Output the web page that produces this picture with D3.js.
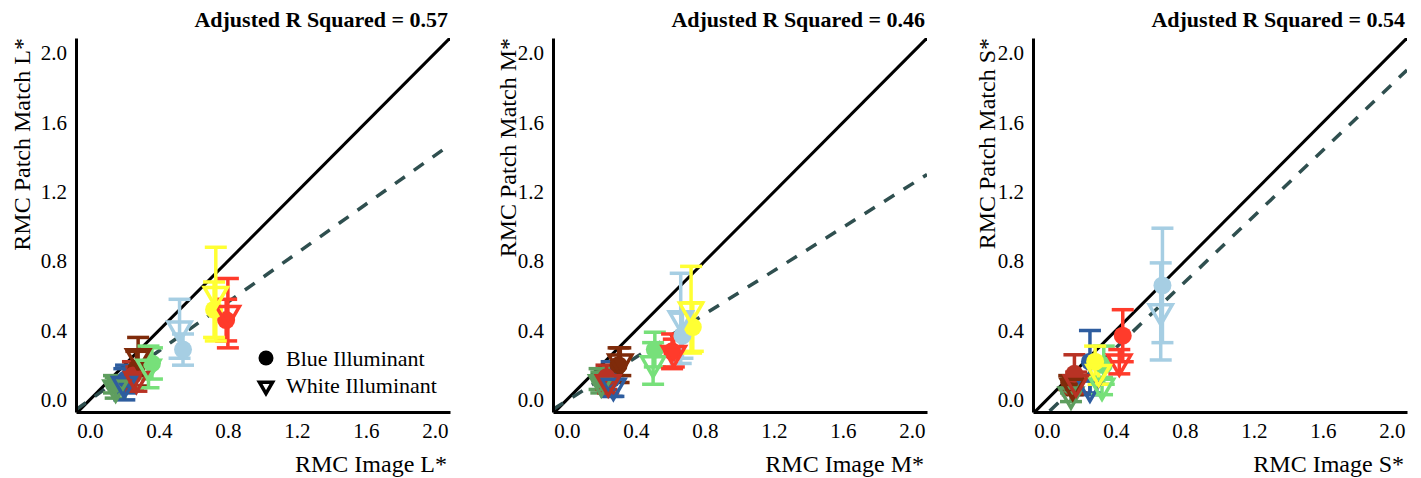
<!DOCTYPE html>
<html>
<head>
<meta charset="utf-8">
<script src="https://cdn.jsdelivr.net/npm/d3@7"></script>
<style>
  body { margin: 0; background: #fff; }
</style>
</head>
<body>
<svg id="chart" width="1421" height="478"></svg>
<script>
// patch colours (same order in every panel)
const patchColors = ["#5f9e5f", "#2e5d9f", "#7f2b0a", "#b83224", "#77e07a", "#ff3b2b", "#a6cee3", "#ffff33"];

// L* panel : [x, y, err] for blue illuminant (circle) and white illuminant (triangle)
const blueL = [[0.14, 0.09, 0.05], [0.21, 0.12, 0.08], [0.27, 0.18, 0.10], [0.25, 0.14, 0.08],
               [0.36, 0.21, 0.09], [0.79, 0.46, 0.12], [0.54, 0.29, 0.09], [0.72, 0.52, 0.16]];
const whiteL = [[0.15, 0.07, 0.06], [0.20, 0.09, 0.09], [0.28, 0.25, 0.11], [0.27, 0.12, 0.07],
                [0.34, 0.19, 0.12], [0.80, 0.50, 0.20], [0.52, 0.41, 0.17], [0.73, 0.61, 0.27]];

// M* panel
const blueM = [[0.19, 0.12, 0.06], [0.26, 0.12, 0.10], [0.30, 0.20, 0.10], [0.23, 0.13, 0.07],
               [0.51, 0.29, 0.10], [0.61, 0.28, 0.10], [0.67, 0.37, 0.13], [0.73, 0.42, 0.14]];
const whiteM = [[0.20, 0.10, 0.06], [0.27, 0.08, 0.06], [0.31, 0.22, 0.08], [0.24, 0.10, 0.06],
                [0.50, 0.21, 0.12], [0.62, 0.27, 0.08], [0.66, 0.47, 0.26], [0.72, 0.52, 0.25]];

// S* panel
const blueS = [[0.14, 0.08, 0.04], [0.25, 0.22, 0.18], [0.13, 0.10, 0.04], [0.16, 0.15, 0.11],
               [0.33, 0.20, 0.11], [0.44, 0.37, 0.15], [0.67, 0.66, 0.33], [0.28, 0.22, 0.09]];
const whiteS = [[0.14, 0.03, 0.04], [0.25, 0.07, 0.04], [0.15, 0.08, 0.05], [0.17, 0.10, 0.06],
                [0.32, 0.08, 0.05], [0.42, 0.22, 0.07], [0.66, 0.51, 0.28], [0.30, 0.16, 0.07]];

// regression fits: [slope, intercept]
const fitL = [0.705, 0.0];
const fitM = [0.625, -0.005];
const fitS = [0.95, -0.08];

const r2Labels = ["Adjusted R Squared = 0.57", "Adjusted R Squared = 0.46", "Adjusted R Squared = 0.54"];
const xTitles = ["RMC Image L*", "RMC Image M*", "RMC Image S*"];
const yTitles = ["RMC Patch Match L*", "RMC Patch Match M*", "RMC Patch Match S*"];
const tickValues = [0, 0.4, 0.8, 1.2, 1.6, 2.0];
const legendLabels = ["Blue Illuminant", "White Illuminant"];

const serif = "'Liberation Serif', 'Times New Roman', Times, 'DejaVu Serif', serif";

const panels = [
  { left: 76, right: 450, ytx: 30, blue: blueL, white: whiteL, fit: fitL },
  { left: 553, right: 927, ytx: 516, blue: blueM, white: whiteM, fit: fitM },
  { left: 1033, right: 1407, ytx: 995, blue: blueS, white: whiteS, fit: fitS }
];
const plotTop = 38, plotBottom = 412;
const dom = [-0.08, 2.087];

const svg = d3.select("#chart").style("font-family", serif);

panels.forEach((p, k) => {
  const x = d3.scaleLinear().domain(dom).range([p.left, p.right]);
  const y = d3.scaleLinear().domain([-0.07, 2.087]).range([plotBottom, plotTop]);

  const clipId = "clip" + k;
  svg.append("clipPath").attr("id", clipId)
    .append("rect")
    .attr("x", p.left).attr("y", plotTop)
    .attr("width", p.right - p.left).attr("height", plotBottom - plotTop);

  const g = svg.append("g");
  const plot = g.append("g").attr("clip-path", `url(#${clipId})`);

  // identity line
  plot.append("line")
    .attr("x1", x(dom[0])).attr("y1", y(dom[0]))
    .attr("x2", x(dom[1])).attr("y2", y(dom[1]))
    .attr("stroke", "#000").attr("stroke-width", 3);

  // regression line
  plot.append("line")
    .attr("x1", x(dom[0])).attr("y1", y(p.fit[0] * dom[0] + p.fit[1]))
    .attr("x2", x(dom[1])).attr("y2", y(p.fit[0] * dom[1] + p.fit[1]))
    .attr("stroke", "#2f4f4f").attr("stroke-width", 3.5)
    .attr("stroke-dasharray", "12,11");

  const rows = [];
  p.blue.forEach((d, i) => rows.push({ shape: "c", x: d[0], y: d[1], e: d[2], col: patchColors[i] }));
  p.white.forEach((d, i) => rows.push({ shape: "t", x: d[0], y: d[1], e: d[2], col: patchColors[i] }));

  // error bars
  const eb = plot.selectAll("g.eb").data(rows).enter().append("g").attr("class", "eb")
    .attr("stroke", d => d.col).attr("stroke-width", 3.5).attr("fill", "none");
  eb.append("line")
    .attr("x1", d => x(d.x)).attr("x2", d => x(d.x))
    .attr("y1", d => y(d.y - d.e)).attr("y2", d => y(d.y + d.e));
  eb.append("line")
    .attr("x1", d => x(d.x) - 11).attr("x2", d => x(d.x) + 11)
    .attr("y1", d => y(d.y + d.e)).attr("y2", d => y(d.y + d.e));
  eb.append("line")
    .attr("x1", d => x(d.x) - 11).attr("x2", d => x(d.x) + 11)
    .attr("y1", d => y(d.y - d.e)).attr("y2", d => y(d.y - d.e));

  // points
  const tri = d3.symbol().type(d3.symbolTriangle).size(230);
  rows.forEach(d => {
    if (d.shape === "c") {
      plot.append("circle")
        .attr("cx", x(d.x)).attr("cy", y(d.y)).attr("r", 9)
        .attr("fill", d.col);
    } else {
      plot.append("path")
        .attr("d", tri())
        .attr("transform", `translate(${x(d.x)},${y(d.y)}) rotate(180)`)
        .attr("fill", "none").attr("stroke", d.col).attr("stroke-width", 3.5);
    }
  });

  // axes
  const xAxis = g.append("g").attr("transform", `translate(0,${plotBottom})`)
    .call(d3.axisBottom(x).tickValues(tickValues).tickFormat(d3.format(".1f")).tickSize(0).tickPadding(11));
  const yAxis = g.append("g").attr("transform", `translate(${p.left},0)`)
    .call(d3.axisLeft(y).tickValues(tickValues).tickFormat(d3.format(".1f")).tickSize(0).tickPadding(9));
  [xAxis, yAxis].forEach(a => {
    a.attr("font-family", serif).attr("font-size", 21);
    a.select(".domain").attr("stroke", "#000").attr("stroke-width", 3);
    a.selectAll("text").attr("fill", "#000");
  });

  // titles
  g.append("text")
    .attr("x", p.right - 2).attr("y", 27)
    .attr("text-anchor", "end")
    .attr("font-size", 22).attr("font-weight", "bold")
    .text(r2Labels[k]);
  g.append("text")
    .attr("x", p.right - 3).attr("y", 472)
    .attr("text-anchor", "end")
    .attr("font-size", 24)
    .text(xTitles[k]);
  g.append("text")
    .attr("transform", `translate(${p.ytx},${plotTop}) rotate(-90)`)
    .attr("text-anchor", "end")
    .attr("font-size", 24)
    .text(yTitles[k]);

  // legend, only in first panel
  if (k === 0) {
    const lg = g.append("g");
    lg.append("circle").attr("cx", 266).attr("cy", 358).attr("r", 7.5).attr("fill", "#000");
    lg.append("path")
      .attr("d", d3.symbol().type(d3.symbolTriangle).size(75)())
      .attr("transform", "translate(266,386) rotate(180)")
      .attr("fill", "none").attr("stroke", "#000").attr("stroke-width", 3.5);
    lg.selectAll("text.lg").data(legendLabels).enter().append("text")
      .attr("x", 286).attr("y", (d, i) => 366 + i * 27)
      .attr("font-size", 22)
      .text(d => d);
  }
});
</script>
</body>
</html>
